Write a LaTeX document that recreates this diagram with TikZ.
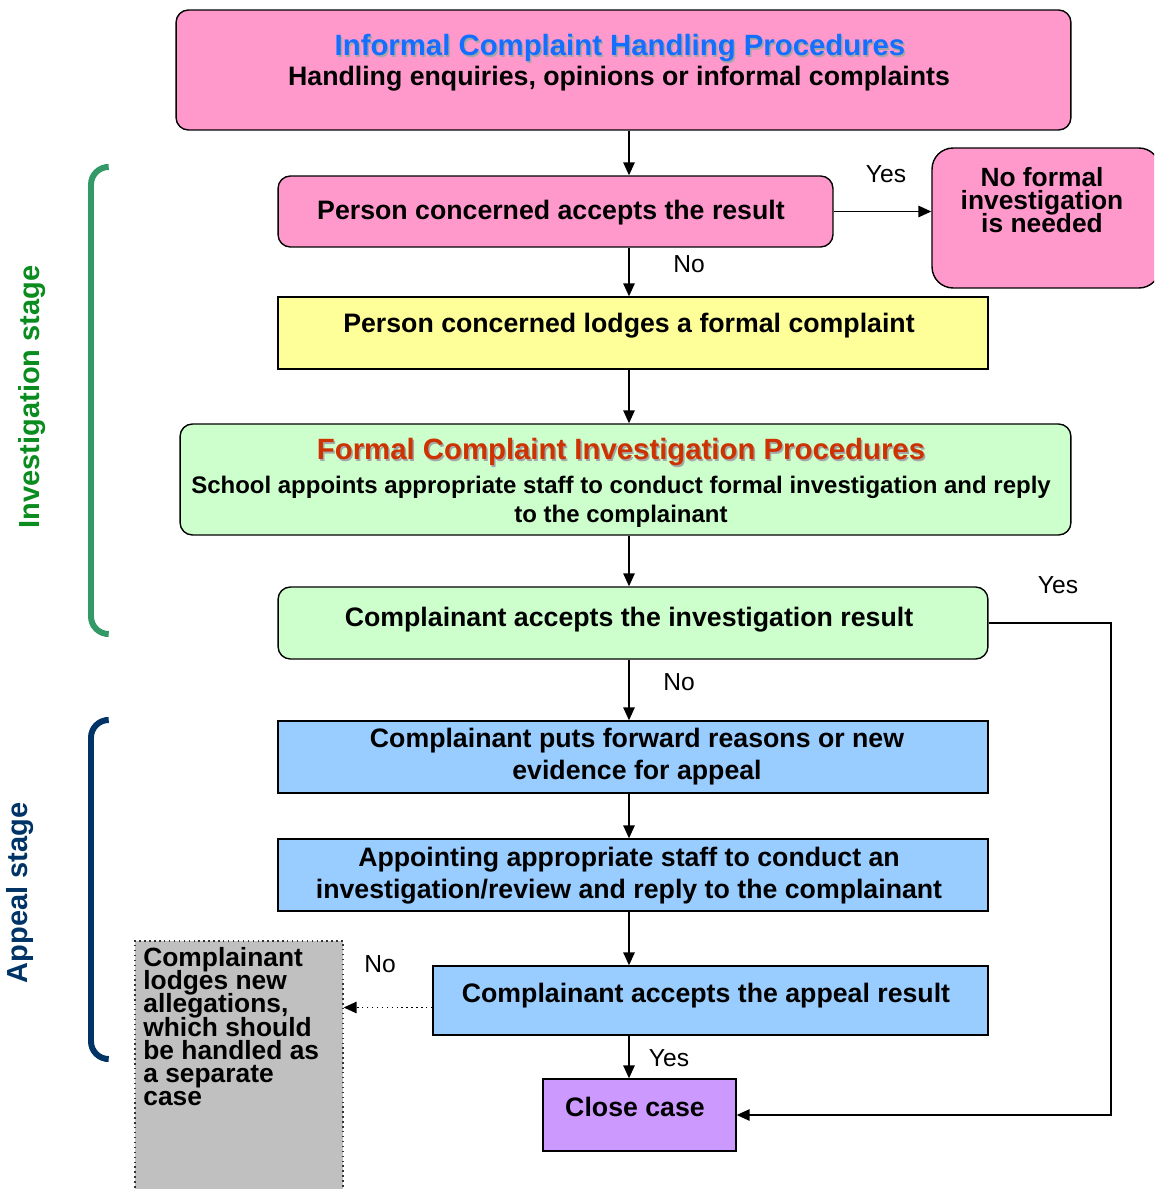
\documentclass[tikz,border=0pt]{standalone}
\usepackage{fontspec}
\setmainfont{Liberation Sans}
\usetikzlibrary{arrows.meta}
\definecolor{boxpink}{RGB}{255,153,204}
\definecolor{boxyellow}{RGB}{255,255,153}
\definecolor{boxgreen}{RGB}{204,255,204}
\definecolor{boxblue}{RGB}{153,204,255}
\definecolor{boxpurple}{RGB}{204,153,255}
\definecolor{boxgrey}{RGB}{192,192,192}
\definecolor{titleblue}{RGB}{20,110,255}
\definecolor{titlered}{RGB}{204,51,0}
\definecolor{invgreen}{RGB}{51,153,102}
\definecolor{invtext}{RGB}{10,140,30}
\definecolor{appealblue}{RGB}{0,51,102}
\newcommand\tightlines{\lineskiplimit=-20pt\relax}
\tikzset{
  box/.style={draw=black, line width=0.8pt, inner sep=0pt},
  roundbox/.style={box, rounded corners=7pt},
  txt/.style={font=\fontsize{15.2}{18.2}\selectfont\bfseries, align=center, inner sep=0pt, yshift=-1.6pt},
  tighttxt/.style={txt, font=\fontsize{15}{13.2}\selectfont\bfseries\tightlines},
  titletxt/.style={font=\fontsize{16.7}{20}\selectfont\bfseries, inner sep=0pt, yshift=-1.6pt},
  shadowtxt/.style={titletxt, text=black!35},
  stagetxt/.style={font=\fontsize{16.5}{20}\selectfont\bfseries, inner sep=0pt, rotate=90},
  choice/.style={font=\fontsize{14}{16}\selectfont, inner sep=0pt},
  arr/.style={line width=0.8pt, -{Triangle[length=0.26cm, width=0.23cm]}},
}
\begin{document}
\begin{tikzpicture}[x=0.02cm, y=-0.02cm]
  \useasboundingbox (0,0) rectangle (1154,1189);
  \clip (0,0) rectangle (1154,1189);
  \coordinate (col) at (629,0);
  \coordinate (loop) at (1111,0);

  % boxes
  \node[roundbox, fill=boxpink, minimum width=17.9cm, minimum height=2.4cm] (informal) at (623.5,70) {};
  \node[roundbox, fill=boxpink, minimum width=11.1cm, minimum height=1.42cm] (accept) at (555.5,211.5) {};
  \node[roundbox, fill=boxpink, rounded corners=12pt, minimum width=4.56cm, minimum height=2.8cm] (noformal) at (1046,218) {};
  \node[box, fill=boxyellow, minimum width=14.2cm, minimum height=1.44cm] (lodge) at (633,333) {};
  \node[roundbox, fill=boxgreen, minimum width=17.82cm, minimum height=2.22cm] (formal) at (625.5,479.5) {};
  \node[roundbox, fill=boxgreen, minimum width=14.2cm, minimum height=1.44cm] (invaccept) at (633,623) {};
  \node[box, fill=boxblue, minimum width=14.2cm, minimum height=1.44cm] (appeal) at (633,757) {};
  \node[box, fill=boxblue, minimum width=14.2cm, minimum height=1.44cm] (review) at (633,875) {};
  \node[box, fill=boxblue, minimum width=11.1cm, minimum height=1.38cm] (appaccept) at (710.5,1000.5) {};
  \node[box, fill=boxpurple, minimum width=3.86cm, minimum height=1.44cm] (close) at (639.5,1115) {};
  \node[box, draw=black!80, dotted, fill=boxgrey, minimum width=4.16cm, minimum height=5.18cm] (separate) at (239,1070.5) {};

  % texts
  \node[shadowtxt] (informalshadow) at (621.5,47) {Informal Complaint Handling Procedures};
  \node[titletxt, text=titleblue] (informaltitle) at (620,45) {Informal Complaint Handling Procedures};
  \node[txt] (informalsub) at (619,76) {Handling enquiries, opinions or informal complaints};
  \node[txt] (accepttxt) at (551,210) {Person concerned accepts the result};
  \node[tighttxt] (noformaltxt) at (1042,197) {No formal\\investigation\\is needed};
  \node[txt] (lodgetxt) at (629,323) {Person concerned lodges a formal complaint};
  \node[shadowtxt] (formalshadow) at (622.5,451) {Formal Complaint Investigation Procedures};
  \node[titletxt, text=titlered] (formaltitle) at (621,449) {Formal Complaint Investigation Procedures};
  \node[txt, font=\fontsize{13.65}{16.5}\selectfont\bfseries] (formalsub) at (621,498.5) {School appoints appropriate staff to conduct formal investigation and reply\\to the complainant};
  \node[txt] (invaccepttxt) at (629,617) {Complainant accepts the investigation result};
  \node[txt] (appealtxt) at (637,754) {Complainant puts forward reasons or new\\evidence for appeal};
  \node[txt] (reviewtxt) at (629,873) {Appointing appropriate staff to conduct an\\investigation/review and reply to the complainant};
  \node[txt] (appaccepttxt) at (706,993) {Complainant accepts the appeal result};
  \node[txt] (closetxt) at (635,1104) {Close case};
  \node[tighttxt, align=left, anchor=north west, yshift=1.6pt] (separatetxt) at (143,947) {Complainant\\lodges new\\allegations,\\which should\\be handled as\\a separate\\case};

  % stage brackets
  \draw[invgreen, line width=3.4pt, rounded corners=10pt] (105,167) -- (91,167) -- (91,634) -- (105,634);
  \draw[appealblue, line width=3.4pt, rounded corners=10pt] (105,720) -- (91,720) -- (91,1059) -- (105,1059);
  \node[stagetxt, text=invtext] (invstage) at (32,397) {Investigation stage};
  \node[stagetxt, text=appealblue] (appealstage) at (20,893) {Appeal stage};

  % connectors
  \draw[arr] (informal.south -| col) -- (accept.north -| col);
  \draw[arr] (accept.east) -- (noformal.west |- accept.east);
  \draw[arr] (accept.south -| col) -- (lodge.north -| col);
  \draw[arr] (lodge.south -| col) -- (formal.north -| col);
  \draw[arr] (formal.south -| col) -- (invaccept.north -| col);
  \draw[arr] (invaccept.south -| col) -- (appeal.north -| col);
  \draw[arr] (invaccept.east) -| (loop |- close.east) -- (close.east);
  \draw[arr] (appeal.south -| col) -- (review.north -| col);
  \draw[arr] (review.south -| col) -- (appaccept.north -| col);
  \draw[arr] (appaccept.south -| col) -- (close.north -| col);
  \draw[arr, dotted] ([yshift=-0.14cm]appaccept.west) -- ([yshift=-0.14cm]separate.east |- appaccept.west);

  % yes / no
  \node[choice] (yes1) at (886,174) {Yes};
  \node[choice] (no1) at (689,264) {No};
  \node[choice] (yes2) at (1058,585) {Yes};
  \node[choice] (no2) at (679,682) {No};
  \node[choice] (no3) at (380,964) {No};
  \node[choice] (yes3) at (669,1058) {Yes};
\end{tikzpicture}
\end{document}
